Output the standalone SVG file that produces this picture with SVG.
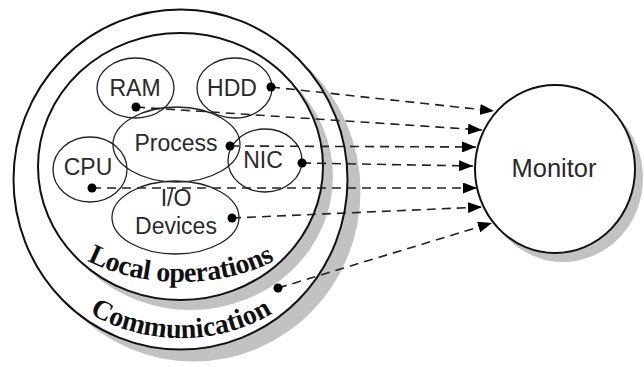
<svg xmlns="http://www.w3.org/2000/svg" width="644" height="367" viewBox="0 0 644 367">
<style>
.shadow{fill:#c2c2c2;stroke:none}
.ring{fill:#fff;stroke:#111;stroke-width:2}
.node{fill:none;stroke:#222;stroke-width:1.3}
.lbl{font-family:"Liberation Sans",Arial,sans-serif;font-size:23px;fill:#2a2a2a;text-anchor:middle}
.arc{font-family:"Liberation Serif","Times New Roman",serif;font-size:28px;font-weight:bold;fill:#111}
.dash{fill:none;stroke:#222;stroke-width:1.6;stroke-dasharray:9 6;marker-end:url(#ah)}
.dot{fill:#000}
</style>
<defs>
<marker id="ah" markerWidth="14" markerHeight="11" refX="14" refY="5.5" orient="auto" markerUnits="userSpaceOnUse">
<path d="M0,0 L14,5.5 L0,11 z" fill="#000"/>
</marker>
<path id="p-local" d="M31,184 A150,98 0 0 0 331,184"/>
<path id="p-comm" d="M21,201 A160,137 0 0 0 341,201"/>
</defs>
<rect width="644" height="367" fill="#fff"/>

<g id="communication">
<ellipse class="shadow" cx="193.5" cy="191.5" rx="167" ry="170"/>
<ellipse class="ring" cx="180.5" cy="179.5" rx="167" ry="170"/>
</g>
<g id="local-operations">
<ellipse class="shadow" cx="190.5" cy="176.5" rx="142.5" ry="133.5"/>
<ellipse class="ring" cx="180.5" cy="166.5" rx="142.5" ry="133.5"/>
<text class="arc"><textPath href="#p-local" startOffset="50%" text-anchor="middle" textLength="194" lengthAdjust="spacing">Local operations</textPath></text>
</g>
<text id="communication-label" class="arc"><textPath href="#p-comm" startOffset="50%" text-anchor="middle" textLength="192" lengthAdjust="spacing">Communication</textPath></text>

<g id="ram">
<ellipse class="node" cx="135.5" cy="88" rx="38.5" ry="30"/>
<text class="lbl" x="135" y="96">RAM</text>
</g>
<g id="hdd">
<ellipse class="node" cx="234.5" cy="88" rx="37.5" ry="30"/>
<text class="lbl" x="232" y="96">HDD</text>
</g>
<g id="process">
<ellipse class="node" cx="176.5" cy="144.5" rx="63.5" ry="37.5"/>
<text class="lbl" x="176" y="151">Process</text>
</g>
<g id="nic">
<ellipse class="node" cx="265" cy="160.5" rx="37" ry="31.5"/>
<text class="lbl" x="263" y="168">NIC</text>
</g>
<g id="cpu">
<ellipse class="node" cx="90" cy="169.5" rx="37" ry="32.5"/>
<text class="lbl" x="88" y="175">CPU</text>
</g>
<g id="io-devices">
<ellipse class="node" cx="175.5" cy="217.5" rx="63.5" ry="36.5"/>
<text class="lbl" x="176" y="206">I/O</text>
<text class="lbl" x="176" y="234">Devices</text>
</g>

<g id="monitor">
<ellipse class="shadow" cx="563" cy="178" rx="80" ry="84"/>
<ellipse class="ring" cx="555" cy="169" rx="80" ry="84"/>
<text class="lbl" x="554" y="177" style="font-size:25.5px">Monitor</text>
</g>

<g id="connectors">
<line class="dash" x1="271" y1="87" x2="494" y2="111"/>
<line class="dash" x1="136" y1="107" x2="482" y2="130"/>
<line class="dash" x1="230" y1="146" x2="476" y2="147"/>
<line class="dash" x1="302" y1="163" x2="473" y2="166"/>
<line class="dash" x1="92" y1="188" x2="477" y2="188"/>
<line class="dash" x1="232" y1="218" x2="482" y2="207"/>
<line class="dash" x1="278" y1="288" x2="492" y2="223"/>
<circle class="dot" cx="271" cy="87" r="4.5"/>
<circle class="dot" cx="136" cy="107" r="4.5"/>
<circle class="dot" cx="230" cy="146" r="4.5"/>
<circle class="dot" cx="302" cy="163" r="4.5"/>
<circle class="dot" cx="92" cy="188" r="4.5"/>
<circle class="dot" cx="232" cy="218" r="4.5"/>
<circle class="dot" cx="278" cy="288" r="4.5"/>
</g>
</svg>
